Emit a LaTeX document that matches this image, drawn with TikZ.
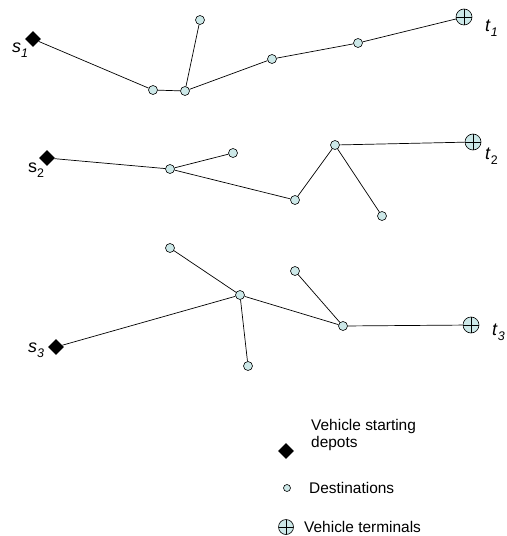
\documentclass[tikz,border=0pt]{standalone}
\usepackage{fontspec}
\setmainfont{Liberation Sans}
\usetikzlibrary{shapes.geometric}

\definecolor{destfill}{RGB}{204,232,232}

\tikzset{
	depot/.style={diamond, fill=black, inner sep=0pt, minimum size=16bp},
	dest/.style={circle, draw, fill=destfill, line width=0.6bp, inner sep=0pt, minimum size=9bp},
	terminal/.style={circle, draw, fill=destfill, line width=0.6bp, inner sep=0pt, minimum size=16bp,
		path picture={\draw[line width=0.6bp] (path picture bounding box.north) -- (path picture bounding box.south)
			(path picture bounding box.west) -- (path picture bounding box.east);}},
	route/.style={line width=0.7bp},
	vlbl/.style={anchor=base west, inner sep=0pt, font=\fontsize{18}{20}\selectfont},
	legtext/.style={anchor=base west, inner sep=0pt, align=left, font=\fontsize{15.5}{17}\selectfont}
}

\newcommand{\vsub}[2]{#1\raisebox{-5bp}{\fontsize{12.5}{12.5}\selectfont #2}}

\begin{document}
\begin{tikzpicture}[x=1bp, y=-1bp]

	\useasboundingbox (0,0) rectangle (507,536);

	% Route 1
	\node[depot] (s1) at (33,39) {};
	\node[dest] (a1) at (153,90) {};
	\node[dest] (b1) at (185,91) {};
	\node[dest] (c1) at (200,20) {};
	\node[dest] (d1) at (272,59) {};
	\node[dest] (e1) at (358,43) {};
	\node[terminal] (t1) at (464,17) {};
	\node[vlbl] (ls1) at (12,53) {\vsub{\textit{s}}{\textit{1}}};
	\node[vlbl] (lt1) at (485,32) {\vsub{\textit{t}}{\textit{1}}};
	\draw[route] (s1) -- (a1) -- (b1) -- (d1) -- (e1) -- (t1);
	\draw[route] (b1) -- (c1);

	% Route 2
	\node[depot] (s2) at (47,158) {};
	\node[dest] (a2) at (170,169) {};
	\node[dest] (b2) at (233,153) {};
	\node[dest] (c2) at (295,200) {};
	\node[dest] (d2) at (335,145) {};
	\node[dest] (e2) at (382,216) {};
	\node[terminal] (t2) at (473,142) {};
	\node[vlbl] (ls2) at (28,173) {\vsub{s}{2}};
	\node[vlbl] (lt2) at (485,160) {\vsub{\textit{t}}{2}};
	\draw[route] (s2) -- (a2) -- (c2) -- (d2) -- (t2);
	\draw[route] (a2) -- (b2);
	\draw[route] (d2) -- (e2);

	% Route 3
	\node[depot] (s3) at (56,347) {};
	\node[dest] (a3) at (170,248) {};
	\node[dest] (b3) at (240,295) {};
	\node[dest] (c3) at (248,366) {};
	\node[dest] (d3) at (295,271) {};
	\node[dest] (e3) at (343,326) {};
	\node[terminal] (t3) at (471,325) {};
	\node[vlbl] (ls3) at (28,352) {\vsub{\textit{s}}{\textit{3}}};
	\node[vlbl] (lt3) at (492,335) {\vsub{\textit{t}}{\textit{3}}};
	\draw[route] (s3) -- (b3) -- (e3) -- (t3);
	\draw[route] (a3) -- (b3) -- (c3);
	\draw[route] (d3) -- (e3);

	% Legend
	\node[depot] (kdepot) at (286,451) {};
	\node[legtext] (tdepot) at (311,447) {Vehicle starting\\depots};
	\node[dest, minimum size=7bp] (kdest) at (287,488) {};
	\node[legtext] (tdest) at (309,493) {Destinations};
	\node[terminal, minimum size=15bp] (kterm) at (286,527) {};
	\node[legtext] (tterm) at (304,532) {Vehicle terminals};

\end{tikzpicture}
\end{document}
